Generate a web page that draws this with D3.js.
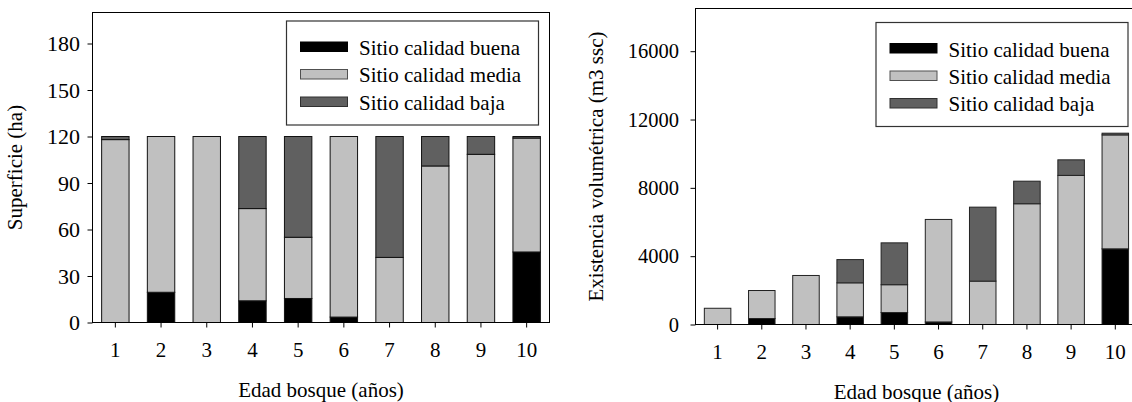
<!DOCTYPE html>
<html>
<head>
<meta charset="utf-8">
<script src="https://cdn.jsdelivr.net/npm/d3@7"></script>
<style>
  html, body { margin: 0; padding: 0; background: #fff; }
  svg { display: block; }
</style>
</head>
<body>
<svg id="chart" width="1132" height="402"></svg>
<script>
// ---------- data ----------
const edades = ["1", "2", "3", "4", "5", "6", "7", "8", "9", "10"];
const serieNombres = ["Sitio calidad buena", "Sitio calidad media", "Sitio calidad baja"];

// Superficie (ha)
const superficieBuena = [0, 19.5, 0, 14, 15.5, 3.5, 0, 0, 0, 45.5];
const superficieMedia = [118, 100.5, 120, 59.5, 39.5, 116.5, 42, 101, 108.5, 73.5];
const superficieBaja  = [2, 0, 0, 46.5, 65, 0, 78, 19, 11.5, 1];
const ticksSuperficie = [0, 30, 60, 90, 120, 150, 180];

// Existencia volumétrica (m3 ssc)
const volumenBuena = [0, 350, 0, 450, 700, 150, 0, 0, 0, 4430];
const volumenMedia = [950, 1640, 2870, 1990, 1630, 6000, 2540, 7070, 8730, 6670];
const volumenBaja  = [0, 0, 0, 1360, 2450, 0, 4330, 1320, 910, 100];
const ticksVolumen = [0, 4000, 8000, 12000, 16000];

// ---------- drawing ----------
const FONT = "'Liberation Serif', 'Times New Roman', 'DejaVu Serif', serif";
const svg = d3.select("#chart").attr("font-family", FONT);
const colores = ["#000000", "#c0c0c0", "#606060"];
const bordesLeyenda = ["#000000", "#505050", "#303030"];

function dibujar(cfg) {
  const rows = edades.map((e, i) => ({ edad: e, buena: cfg.buena[i], media: cfg.media[i], baja: cfg.baja[i] }));
  const stack = d3.stack().keys(["buena", "media", "baja"])(rows);

  const x = d3.scaleBand().domain(edades).range([cfg.left, cfg.right]).paddingInner(0.4).paddingOuter(0.2);
  const y = d3.scaleLinear().domain([0, cfg.ymax]).range([cfg.bottom, cfg.top]);

  const g = svg.append("g");

  // bars
  g.selectAll("g.serie").data(stack).join("g")
    .attr("class", "serie")
    .attr("fill", (d, i) => colores[i])
    .selectAll("rect").data(d => d.filter(p => p[1] - p[0] > 0)).join("rect")
      .attr("x", d => x(d.data.edad))
      .attr("width", x.bandwidth())
      .attr("y", d => y(d[1]))
      .attr("height", d => y(d[0]) - y(d[1]))
      .attr("stroke", cfg.barStroke)
      .attr("stroke-width", 1);

  // frame
  g.append("rect")
    .attr("x", cfg.left).attr("y", cfg.top)
    .attr("width", cfg.right - cfg.left).attr("height", cfg.bottom - cfg.top)
    .attr("fill", "none").attr("stroke", "#000").attr("stroke-width", 1);

  // y axis
  const ya = g.append("g").attr("transform", `translate(${cfg.left},0)`)
    .call(d3.axisLeft(y).tickValues(cfg.ticks).tickSize(5).tickPadding(cfg.yPad).tickFormat(d3.format("d")));
  ya.attr("font-family", FONT).attr("font-size", cfg.yFont);
  ya.select(".domain").remove();
  ya.selectAll("text").style("font-family", FONT).style("font-size", cfg.yFont + "px").attr("fill", "#000");
  ya.selectAll("line").attr("stroke", "#000");

  // x axis
  const xa = g.append("g").attr("transform", `translate(0,${cfg.bottom})`)
    .call(d3.axisBottom(x).tickSize(5).tickSizeOuter(0));
  xa.attr("font-family", FONT).attr("font-size", 21);
  xa.select(".domain").remove();
  xa.selectAll("text").style("font-family", FONT).style("font-size", "21px").attr("y", 34.5).attr("dy", null).attr("fill", "#000");
  xa.selectAll("line").attr("stroke", "#000");

  // axis titles
  g.append("text")
    .attr("x", (cfg.left + cfg.right) / 2).attr("y", cfg.xTitleY)
    .attr("text-anchor", "middle").style("font-family", FONT).style("font-size", "21px")
    .text("Edad bosque (años)");
  g.append("text")
    .attr("transform", `translate(${cfg.yTitleX},${(cfg.top + cfg.bottom) / 2}) rotate(-90)`)
    .attr("text-anchor", "middle").style("font-family", FONT).style("font-size", "21px")
    .text(cfg.yTitle);

  // legend
  const lg = g.append("g").attr("transform", `translate(${cfg.legX},${cfg.legY})`);
  lg.append("rect").attr("x", 0).attr("y", 0).attr("width", cfg.legW).attr("height", 104)
    .attr("fill", "#fff").attr("stroke", "#333").attr("stroke-width", 1.2);
  serieNombres.forEach((n, i) => {
    lg.append("rect").attr("x", 14).attr("y", 21 + i * 27.5).attr("width", 47).attr("height", 9.5)
      .attr("fill", colores[i]).attr("stroke", bordesLeyenda[i]).attr("stroke-width", 1);
    lg.append("text").attr("x", 72.5).attr("y", 34 + i * 27.3)
      .style("font-family", FONT).style("font-size", "21px").text(n);
  });
}

dibujar({
  buena: superficieBuena, media: superficieMedia, baja: superficieBaja,
  ticks: ticksSuperficie, ymax: 200,
  left: 92.5, right: 549.5, top: 12.5, bottom: 322.5,
  yPad: 7.5, yFont: 22, barStroke: "#111",
  xTitleY: 396.5, yTitleX: 22, yTitle: "Superficie (ha)",
  legX: 286.5, legY: 21, legW: 252
});

dibujar({
  buena: volumenBuena, media: volumenMedia, baja: volumenBaja,
  ticks: ticksVolumen, ymax: 18500,
  left: 695.5, right: 1137.4, top: 8.5, bottom: 324.5,
  yPad: 11.5, yFont: 20.5, barStroke: "#222",
  xTitleY: 398.5, yTitleX: 602.5, yTitle: "Existencia volumétrica (m3 ssc)",
  legX: 876, legY: 22.5, legW: 252
});
</script>
</body>
</html>
